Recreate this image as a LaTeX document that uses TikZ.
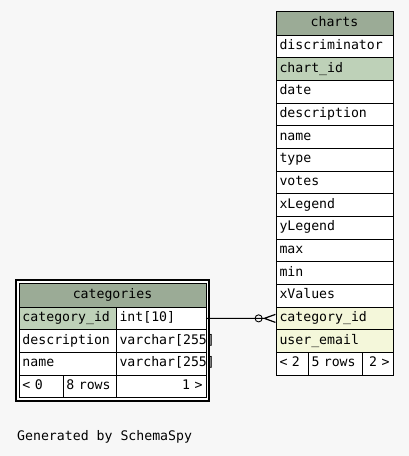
\documentclass[tikz,border=0pt]{standalone}
\usepackage{fontspec}
\setmonofont{DejaVu Sans Mono}
\usetikzlibrary{positioning,arrows.meta}
\definecolor{bgcolor}{HTML}{F7F7F7}
\definecolor{headcolor}{HTML}{9BAB96}
\definecolor{pkcolor}{HTML}{BED1B8}
\definecolor{fkcolor}{HTML}{F4F7DA}
\newcommand{\tblfont}{\ttfamily\fontsize{13.2}{15}\selectfont}
\tikzstyle{cell} = [rectangle, draw, line width=0.8pt, fill=white, inner xsep=3.5pt,
	inner ysep=0pt, outer sep=0pt, text height=9pt, text depth=2.5pt, align=left,
	minimum height=22.67pt, font=\tblfont]
\tikzstyle{head} = [cell, fill=headcolor, align=center, minimum height=24pt]
\tikzstyle{pkcell} = [cell, fill=pkcolor]
\tikzstyle{fkcell} = [cell, fill=fkcolor]
\tikzstyle{line} = [draw, line width=0.9pt,
	-{Circle[open,length=8pt,width=8pt]Straight Barb[reversed,length=11pt,width=8pt,line width=1.2pt]}]

\begin{document}
\begin{tikzpicture}[x=1pt, y=1pt, node distance=0pt]
	\fill [bgcolor] (0,0) rectangle (409,-456);
	\useasboundingbox (0,0) rectangle (409,-456);
	% Place charts table
	\node [head, text width=110pt, anchor=north west] (charts) at (276,-11) {charts};
	\node [cell, text width=110pt, below=of charts] (chdiscr) {discriminator};
	\node [pkcell, text width=110pt, below=of chdiscr] (chid) {chart\_id};
	\node [cell, text width=110pt, below=of chid] (chdate) {date};
	\node [cell, text width=110pt, below=of chdate] (chdesc) {description};
	\node [cell, text width=110pt, below=of chdesc] (chname) {name};
	\node [cell, text width=110pt, below=of chname] (chtype) {type};
	\node [cell, text width=110pt, below=of chtype] (chvotes) {votes};
	\node [cell, text width=110pt, below=of chvotes] (chxlegend) {xLegend};
	\node [cell, text width=110pt, below=of chxlegend] (chylegend) {yLegend};
	\node [cell, text width=110pt, below=of chylegend] (chmax) {max};
	\node [cell, text width=110pt, below=of chmax] (chmin) {min};
	\node [cell, text width=110pt, below=of chmin] (chxvalues) {xValues};
	\node [fkcell, text width=110pt, below=of chxvalues] (chcatid) {category\_id};
	\node [fkcell, text width=110pt, below=of chcatid] (chemail) {user\_email};
	\node [cell, text width=25pt, below right=of chemail.south west] (chprev) {< 2};
	\node [cell, text width=47pt, right=of chprev] (chrows) {5 rows};
	\node [cell, text width=24pt, align=right, right=of chrows] (chnext) {2 >};
	% Place categories table
	\node [head, text width=180pt, anchor=north west] (categories) at (19,-283) {categories};
	\node [pkcell, text width=90pt, below right=of categories.south west] (catid) {category\_id};
	\node [cell, text width=83pt, right=of catid] (catidtype) {int[10]};
	\node [cell, text width=90pt, below=of catid] (catdesc) {description};
	\node [cell, text width=83pt, right=of catdesc] (catdesctype) {varchar[255]};
	\node [cell, text width=90pt, below=of catdesc] (catname) {name};
	\node [cell, text width=83pt, right=of catname] (catnametype) {varchar[255]};
	\node [cell, text width=37pt, below right=of catname.south west] (catprev) {< 0};
	\node [cell, text width=46pt, right=of catprev] (catrows) {8 rows};
	\node [cell, text width=83pt, align=right, right=of catrows] (catnext) {1 >};
	\draw [white, line width=2pt] ([shift={(-1.5,1.5)}]categories.north west)
		rectangle ([shift={(1.5,-1.5)}]catnext.south east);
	\draw [line width=2pt] ([shift={(-3,3)}]categories.north west)
		rectangle ([shift={(3,-3)}]catnext.south east);
	\node [font=\tblfont, inner sep=0pt, anchor=west] (credit) at (17,-437) {Generated by SchemaSpy};
	% Draw edges
	\path [line] (catidtype.east) -- (chcatid.west);
\end{tikzpicture}
\end{document}
